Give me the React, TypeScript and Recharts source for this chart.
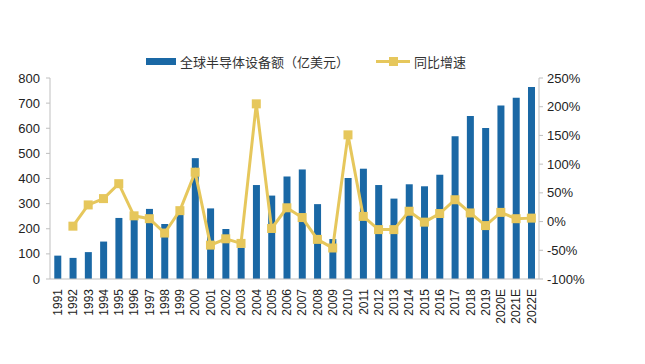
import React from 'react';
import { ComposedChart, Bar, Line, XAxis, YAxis } from 'recharts';

const years = ['1991','1992','1993','1994','1995','1996','1997','1998','1999','2000','2001','2002','2003','2004','2005','2006','2007','2008','2009','2010','2011','2012','2013','2014','2015','2016','2017','2018','2019','2020E','2021E','2022E'];
const equipment = [93,84,107,149,243,265,279,219,259,481,281,199,125,374,332,408,436,298,159,402,439,374,320,377,369,415,568,649,601,691,721,764];
const growth: (number | null)[] = [null,-8,29,40,66,10,5,-20,19,86,-41,-30,-38,205,-12,24,7,-31,-46,151,9,-14,-14,18,-1,14,38,15,-7,16,5,6];
const leftTicks = [0,100,200,300,400,500,600,700,800];
const rightTicks = [-100,-50,0,50,100,150,200,250];
const barName = '全球半导体设备额（亿美元）';
const lineName = '同比增速';

const BAR_COLOR = '#1a68a5';
const LINE_COLOR = '#e6c75c';
const AXIS_COLOR = '#bfbfbf';

const data = years.map((y, i) => ({ year: y, equipment: equipment[i], growth: growth[i] }));

const XTick = (props: any) => {
  const { x, y, payload } = props;
  return (
    <text x={x} y={y} dy="0.36em" textAnchor="end" transform={`rotate(-90, ${x}, ${y})`}
      fontSize={12} fill="#222" fontFamily="Arial, 'Liberation Sans', sans-serif">
      {payload.value}
    </text>
  );
};

const SquareDot = (props: any) => {
  const { cx, cy, index } = props;
  if (cx == null || cy == null || props.value == null) return <g key={`d${index}`} />;
  return <rect key={`d${index}`} x={cx - 4.5} y={cy - 4.5} width={9} height={9} fill={LINE_COLOR} />;
};

export default function App() {
  return (
    <div style={{ position: 'absolute', left: 0, top: 0, width: 645, height: 364, background: '#fff' }}>
      <div style={{ position: 'absolute', left: 146, top: 52, display: 'flex', alignItems: 'center', fontFamily: "'Noto Sans CJK SC', sans-serif", fontSize: 13, color: '#333', zIndex: 2, whiteSpace: 'nowrap' }}>
        <span style={{ display: 'inline-block', width: 30, height: 7, background: BAR_COLOR, marginRight: 4 }} />
        <span>{barName}</span>
        <span style={{ display: 'inline-block', position: 'relative', width: 34, height: 9, marginLeft: 27, marginRight: 4 }}>
          <span style={{ position: 'absolute', left: 0, top: 3, width: 34, height: 3, background: LINE_COLOR }} />
          <span style={{ position: 'absolute', left: 13, top: 0, width: 9, height: 9, background: LINE_COLOR }} />
        </span>
        <span>{lineName}</span>
      </div>
      <ComposedChart width={645} height={364} data={data} margin={{ top: 78, right: 46, bottom: 0, left: 0 }} barCategoryGap="28%">
        <XAxis dataKey="year" interval={0} tick={<XTick />} tickLine={false} axisLine={{ stroke: AXIS_COLOR }} height={85} tickMargin={4} />
        <YAxis yAxisId="left" domain={[0, 800]} ticks={leftTicks} width={50} axisLine={{ stroke: AXIS_COLOR }}
          tickLine={{ stroke: AXIS_COLOR }} tickSize={4} tickMargin={6}
          tick={{ fontSize: 13, fill: '#222', fontFamily: "Arial, 'Liberation Sans', sans-serif" }} />
        <YAxis yAxisId="right" orientation="right" domain={[-100, 250]} ticks={rightTicks} width={60}
          tickFormatter={(v: number) => `${v}%`} axisLine={{ stroke: AXIS_COLOR }}
          tickLine={{ stroke: AXIS_COLOR }} tickSize={4} tickMargin={4}
          tick={{ fontSize: 13, fill: '#222', fontFamily: "Arial, 'Liberation Sans', sans-serif" }} />
        <Bar yAxisId="left" dataKey="equipment" name={barName} fill={BAR_COLOR} isAnimationActive={false} />
        <Line yAxisId="right" dataKey="growth" name={lineName} stroke={LINE_COLOR} strokeWidth={3}
          dot={SquareDot} activeDot={false} connectNulls={false} isAnimationActive={false} />
      </ComposedChart>
    </div>
  );
}
